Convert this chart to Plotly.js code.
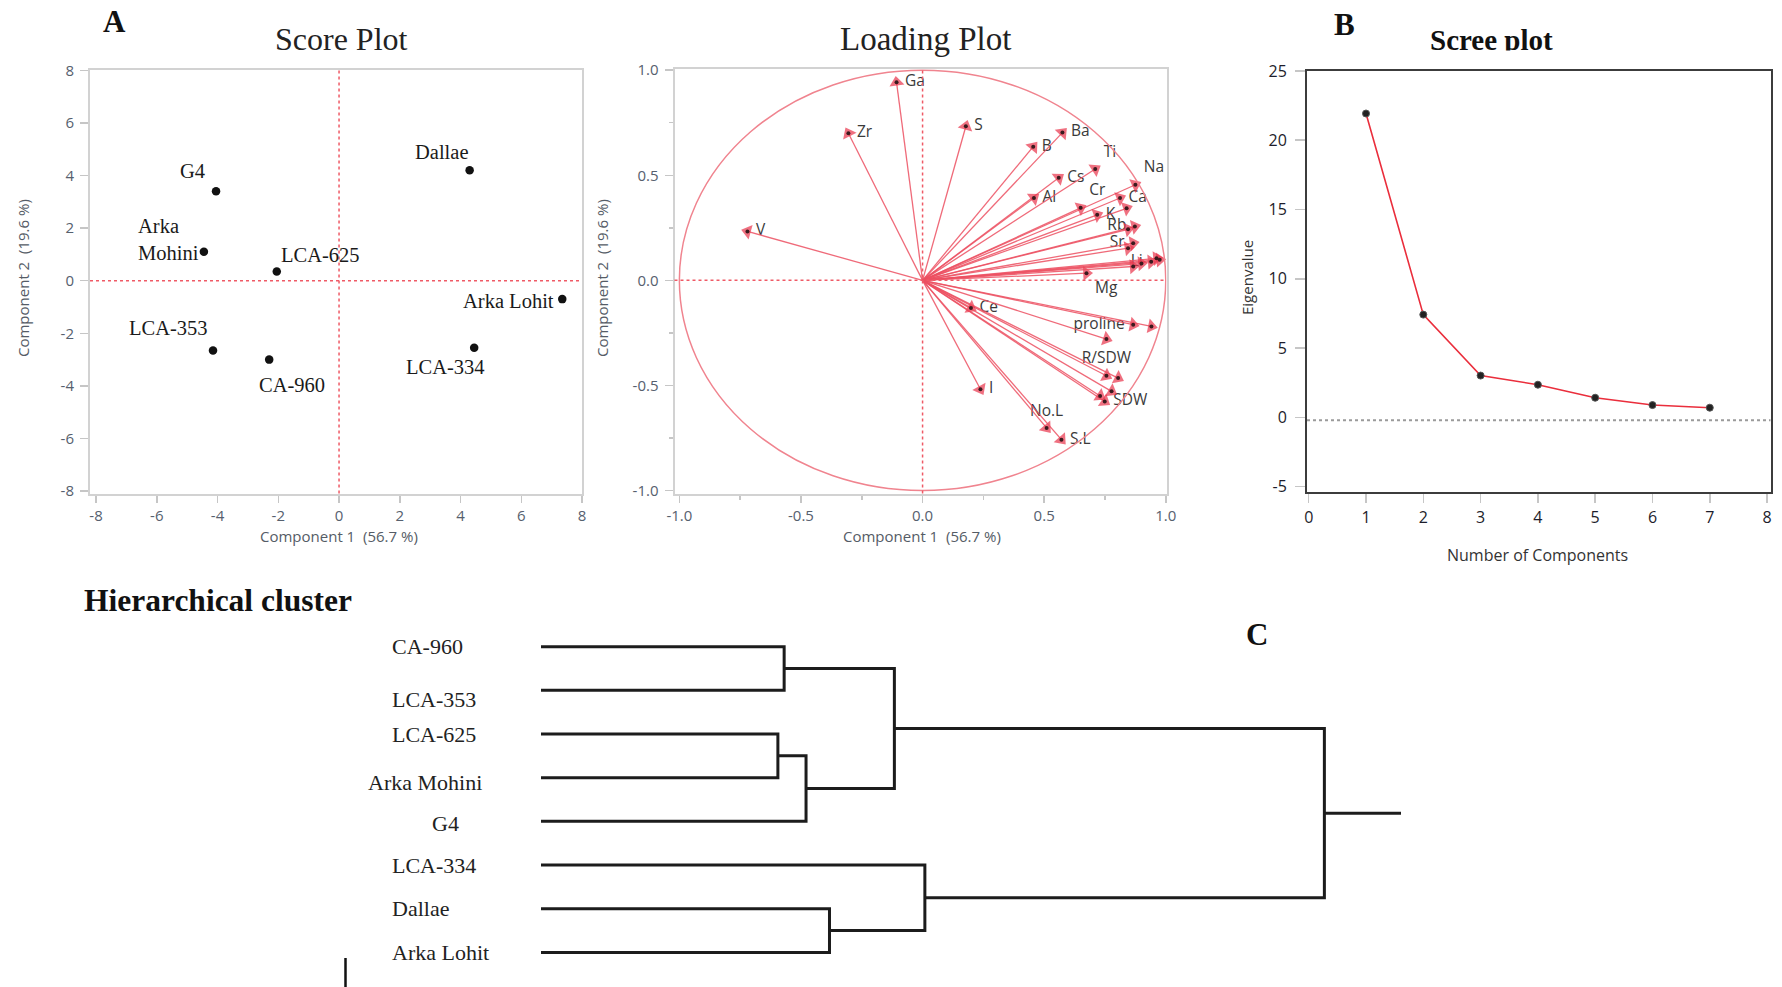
<!DOCTYPE html>
<html><head><meta charset="utf-8">
<script src="https://cdn.plot.ly/plotly-3.0.1.min.js"></script>
<style>html,body{margin:0;padding:0;background:#fff}#chart{width:1782px;height:987px}</style>
</head><body><div id="chart"></div>
<script>
// ---------------- DATA ----------------
// Score plot (PC1 vs PC2)
const cultivars = ['G4','Arka Mohini','LCA-625','Dallae','Arka Lohit','LCA-334','LCA-353','CA-960'];
const scorePC1 = [-4.05,-4.45,-2.05,4.30,7.35,4.45,-4.15,-2.30];
const scorePC2 = [3.40,1.10,0.35,4.20,-0.70,-2.55,-2.65,-3.00];

// Loading plot
const variables = ['Ga','Zr','S','V','Ba','B','Ti','Cs','Na','Al','Cr','Ca','K','Rb','Sr','Li','Mg','proline','R/SDW','SDW','No.L','S.L','Ce','I',
                   '','','','','','','','','','','',''];
const loadPC1 = [-0.107,-0.305,0.178,-0.720,0.575,0.455,0.710,0.560,0.875,0.458,0.650,0.812,0.718,0.873,0.866,0.940,0.674,0.866,0.756,0.749,0.510,0.571,0.199,0.238,
                 0.839,0.845,0.845,0.962,0.975,0.866,0.900,0.941,0.756,0.804,0.777,0.730];
const loadPC2 = [0.942,0.700,0.733,0.233,0.703,0.636,0.530,0.488,0.455,0.392,0.345,0.392,0.312,0.256,0.177,0.089,0.034,-0.211,-0.454,-0.576,-0.702,-0.758,-0.131,-0.518,
                 0.343,0.243,0.153,0.105,0.098,0.066,0.080,-0.219,-0.279,-0.465,-0.528,-0.550];

// Scree plot
const components = [1,2,3,4,5,6,7];
const eigenvalues = [21.93,7.41,3.01,2.35,1.41,0.88,0.69];

// Hierarchical cluster (leaf order top to bottom; merges create clusters 8,9,...)
const leafNames = ['CA-960','LCA-353','LCA-625','Arka Mohini','G4','LCA-334','Dallae','Arka Lohit'];
const mergeA = [2,0,8,6,9,5,12];
const mergeB = [3,1,4,7,10,11,13];
const mergeHeight = [3.03,3.11,3.39,3.69,4.52,4.91,10.02];

// Tick values
const scoreTicks = [-8,-6,-4,-2,0,2,4,6,8];
const loadTicks = [-1,-0.5,0,0.5,1];
const screeXTicks = [0,1,2,3,4,5,6,7,8];
const screeYTicks = [-5,0,5,10,15,20,25];

// ---------------- STYLE / LAYOUT HELPERS ----------------
const W = 1782, H = 987;
const px = v => v / W;
const py = v => 1 - v / H;
const SANS = '"Open Sans", "Noto Sans", sans-serif';
const SERIF = '"Liberation Serif", "DejaVu Serif", serif';
const RED = '#e8334a';
const fmtMinus = v => String(v).replace('\u2212','-');

const traces = [];
const annotations = [];
const shapes = [];

// ---- Score plot ----
traces.push({
  type:'scatter', mode:'markers', x:scorePC1, y:scorePC2, xaxis:'x', yaxis:'y',
  marker:{size:8.5, color:'#111'}, hoverinfo:'text', text:cultivars, showlegend:false
});
const scoreLabelPos = {
  'G4':{xa:'center',dx:-24,dy:20},
  'Arka Mohini':{xa:'right',dx:-3,dy:12,br:true},
  'LCA-625':{xa:'left',dx:2,dy:17},
  'Dallae':{xa:'right',dx:1,dy:18},
  'Arka Lohit':{xa:'right',dx:-6,dy:-2},
  'LCA-334':{xa:'center',dx:-29,dy:-19},
  'LCA-353':{xa:'center',dx:-45,dy:22},
  'CA-960':{xa:'center',dx:23,dy:-25}
};
cultivars.forEach((c,i)=>{
  const p = scoreLabelPos[c];
  annotations.push({
    xref:'x', yref:'y', x:scorePC1[i], y:scorePC2[i], showarrow:false,
    text: p.br ? c.replace(' ','<br>') : c, align:'left',
    xanchor:p.xa, yanchor:'middle', xshift:p.dx, yshift:p.dy,
    font:{family:SERIF, size:20.5, color:'#1a1a1a'}
  });
});
shapes.push({type:'line', xref:'x', yref:'y domain', x0:0, x1:0, y0:0, y1:1, line:{color:'#ef5a66', width:1.5, dash:'dot'}});
shapes.push({type:'line', xref:'x domain', yref:'y', x0:0, x1:1, y0:0, y1:0, line:{color:'#ef5a66', width:1.5, dash:'dot'}});

// ---- Loading plot ----
const labelPos = {
  'Ti':'top right','Na':'top right','Cr':'top right','Rb':'middle left','Sr':'middle left','Li':'middle left',
  'Mg':'bottom right','proline':'middle left','R/SDW':'top center','No.L':'top center'
};
const labIdx = variables.map((v,i)=>i).filter(i=>variables[i]!=='');
traces.push({
  type:'scatter', mode:'markers+text', xaxis:'x2', yaxis:'y2', showlegend:false, hoverinfo:'skip',
  x:labIdx.map(i=>loadPC1[i]), y:labIdx.map(i=>loadPC2[i]), text:labIdx.map(i=>variables[i]),
  marker:{size:12, color:'rgba(0,0,0,0)'},
  textposition:labIdx.map(i=>labelPos[variables[i]]||'middle right'),
  textfont:{family:SANS, size:15.5, color:'#3a3a3a'}
});
variables.forEach((v,i)=>{
  traces.push({
    type:'scatter', mode:'lines', xaxis:'x2', yaxis:'y2', showlegend:false, hoverinfo:'skip',
    x:[0, loadPC1[i]], y:[0, loadPC2[i]],
    line:{color:'rgba(236,80,98,0.85)', width:1.3}
  });
  traces.push({
    type:'scatter', mode:'markers', xaxis:'x2', yaxis:'y2', showlegend:false, hoverinfo:'skip',
    x:[loadPC1[i]*0.96, loadPC1[i]], y:[loadPC2[i]*0.96, loadPC2[i]],
    marker:{symbol:'triangle-up', size:[0,13], angleref:'previous', color:RED, line:{width:0}}
  });
});
traces.push({
  type:'scatter', mode:'markers', xaxis:'x2', yaxis:'y2', showlegend:false, hoverinfo:'skip',
  x:loadPC1, y:loadPC2, marker:{size:4, color:'#3a1a1e'}
});
shapes.push({type:'circle', xref:'x2', yref:'y2', x0:-1, x1:1, y0:-1, y1:1, line:{color:'#f0848f', width:1.5}});
shapes.push({type:'line', xref:'x2', yref:'y2 domain', x0:0, x1:0, y0:0, y1:1, line:{color:'#ef5a66', width:1.5, dash:'dot'}});
shapes.push({type:'line', xref:'x2 domain', yref:'y2', x0:0, x1:1, y0:0, y1:0, line:{color:'#ef5a66', width:1.5, dash:'dot'}});

// ---- Scree plot ----
traces.push({
  type:'scatter', mode:'lines+markers', x:components, y:eigenvalues, xaxis:'x3', yaxis:'y3', showlegend:false,
  line:{color:'#ea2e3c', width:1.6}, marker:{size:7, color:'#222', line:{color:'#555', width:1}}
});
shapes.push({type:'line', xref:'x3 domain', yref:'y3', x0:0, x1:1, y0:-0.22, y1:-0.22, line:{color:'#9a9a9a', width:2, dash:'dot'}});

// ---- Dendrogram ----
const pos = leafNames.map((n,i)=>i);
const hgt = leafNames.map(()=>0);
const dx = [], dy = [];
mergeA.forEach((a,k)=>{
  const b = mergeB[k], Hm = mergeHeight[k];
  dx.push(hgt[a], Hm, Hm, hgt[b], null);
  dy.push(pos[a], pos[a], pos[b], pos[b], null);
  pos.push((pos[a]+pos[b])/2); hgt.push(Hm);
});
const ROOT_STUB = 0.98;
const root = pos.length-1;
dx.push(hgt[root], hgt[root]+ROOT_STUB); dy.push(pos[root], pos[root]);
traces.push({
  type:'scatter', mode:'lines', x:dx, y:dy, xaxis:'x4', yaxis:'y4', showlegend:false, hoverinfo:'skip',
  line:{color:'#1c1c1c', width:3}
});
const leafLabelX = {'CA-960':390,'LCA-353':390,'LCA-625':390,'Arka Mohini':366,'G4':430,'LCA-334':390,'Dallae':390,'Arka Lohit':390};
const leafLabelDy = {'LCA-353':-9,'Arka Mohini':-5,'G4':-2};
leafNames.forEach((n,i)=>{
  annotations.push({xref:'paper', yref:'y4', x:px(leafLabelX[n]), y:i, xanchor:'left', yanchor:'middle',
    yshift:leafLabelDy[n]||0, showarrow:false, text:n, font:{family:SERIF, size:22, color:'#222'}});
});
shapes.push({type:'line', xref:'paper', yref:'paper', x0:px(345.5), x1:px(345.5), y0:0, y1:py(958), line:{color:'#111', width:2.5}});

// ---- Titles & labels ----
function note(text, x, y, opts){
  annotations.push(Object.assign({xref:'paper', yref:'paper', x:px(x), y:py(y), text:text, showarrow:false,
    xanchor:'center', yanchor:'middle'}, opts||{}));
}
note('<b>A</b>', 114, 22, {font:{family:SERIF, size:31, color:'#111'}});
note('Score Plot', 341, 39, {font:{family:SERIF, size:32, color:'#222'}});
note('Loading Plot', 926, 39, {font:{family:SERIF, size:33, color:'#222'}});
note('<b>B</b>', 1344, 25, {font:{family:SERIF, size:31, color:'#111'}});
note('<b>Scree plot</b>', 1491, 40, {font:{family:SERIF, size:29, color:'#111'}});
// the reference title is cut off at its baseline
annotations.push({xref:'paper', yref:'paper', x:px(1491), y:py(50), xanchor:'center', yanchor:'top', showarrow:false,
  text:' ', width:190, height:14, bgcolor:'#ffffff'});
note('<b>Hierarchical cluster</b>', 82, 600, {xanchor:'left', font:{family:SERIF, size:31.5, color:'#111'}});
note('<b>C</b>', 1257, 634, {font:{family:SERIF, size:31, color:'#111'}});

const axTitleFont = {family:SANS, size:15, color:'#555c66'};
note('Component 1\u00a0 (56.7 %)', 339, 536, {font:axTitleFont});
note('Component 2\u00a0 (19.6 %)', 23, 278, {font:axTitleFont, textangle:-90});
note('Component 1\u00a0 (56.7 %)', 922, 536, {font:axTitleFont});
note('Component 2\u00a0 (19.6 %)', 602, 278, {font:axTitleFont, textangle:-90});
note('Eigenvalue', 1247, 278, {font:{family:SANS, size:15, color:'#333'}, textangle:-90});
note('Number of Components', 1537, 555, {font:{family:SANS, size:16, color:'#333'}});

// ---------------- AXES ----------------
const tickFont = {family:SANS, size:15, color:'#56606e'};
function frameAxis(extra){
  return Object.assign({showgrid:false, zeroline:false, showline:true, mirror:true, linecolor:'#d2d2d2', linewidth:2,
    ticks:'outside', ticklen:8, tickwidth:1.5, tickcolor:'#c6c6c6', tickfont:tickFont, ticklabelstandoff:3,
    fixedrange:true}, extra);
}
const xTickStyle = {ticklabelstandoff:0, ticklen:7};
const layout = {
  width:W, height:H, margin:{l:0,r:0,t:0,b:0}, paper_bgcolor:'#fff', plot_bgcolor:'#fff', showlegend:false,
  xaxis: frameAxis(Object.assign({domain:[px(90),px(582)], range:[-8.2,8.0], anchor:'y', tickvals:scoreTicks, ticktext:scoreTicks.map(fmtMinus)}, xTickStyle)),
  yaxis: frameAxis({domain:[py(493.5),py(69.5)], range:[-8.09,8.03], anchor:'x', tickvals:scoreTicks, ticktext:scoreTicks.map(fmtMinus)}),
  xaxis2: frameAxis(Object.assign({domain:[px(674.5),px(1166.5)], range:[-1.02,1.003], anchor:'y2', tickvals:loadTicks, ticktext:loadTicks.map(v=>v.toFixed(1)),
    minor:{ticks:'outside', ticklen:4, tickcolor:'#c6c6c6', tickvals:[-0.75,-0.25,0.25,0.75]}}, xTickStyle)),
  yaxis2: frameAxis({domain:[py(493.5),py(68.5)], range:[-1.014,1.008], anchor:'x2', tickvals:loadTicks, ticktext:loadTicks.map(v=>v.toFixed(1)),
    minor:{ticks:'outside', ticklen:4, tickcolor:'#c6c6c6', tickvals:[-0.75,-0.25,0.25,0.75]}}),
  xaxis3: frameAxis({domain:[px(1307),px(1770.5)], range:[-0.03,8.06], anchor:'y3', tickvals:screeXTicks, ticktext:screeXTicks.map(String),
    linecolor:'#3c3c3c', ticklen:9, tickfont:{family:SANS, size:16, color:'#1d1d2b'}, ticklabelstandoff:1}),
  yaxis3: frameAxis({domain:[py(491.5),py(70.7)], range:[-5.36,25.02], anchor:'x3', tickvals:screeYTicks, ticktext:screeYTicks.map(fmtMinus),
    linecolor:'#3c3c3c', ticklen:10, tickfont:{family:SANS, size:16, color:'#1d1d2b'}, ticklabelstandoff:5}),
  xaxis4: {domain:[px(541),px(1401)], range:[0,11.0], anchor:'y4', visible:false, fixedrange:true},
  yaxis4: {domain:[py(970),py(630)], range:[7.4036,-0.3824], anchor:'x4', visible:false, fixedrange:true},
  annotations: annotations, shapes: shapes
};
Plotly.newPlot('chart', traces, layout, {displayModeBar:false, staticPlot:true});
</script></body></html>
